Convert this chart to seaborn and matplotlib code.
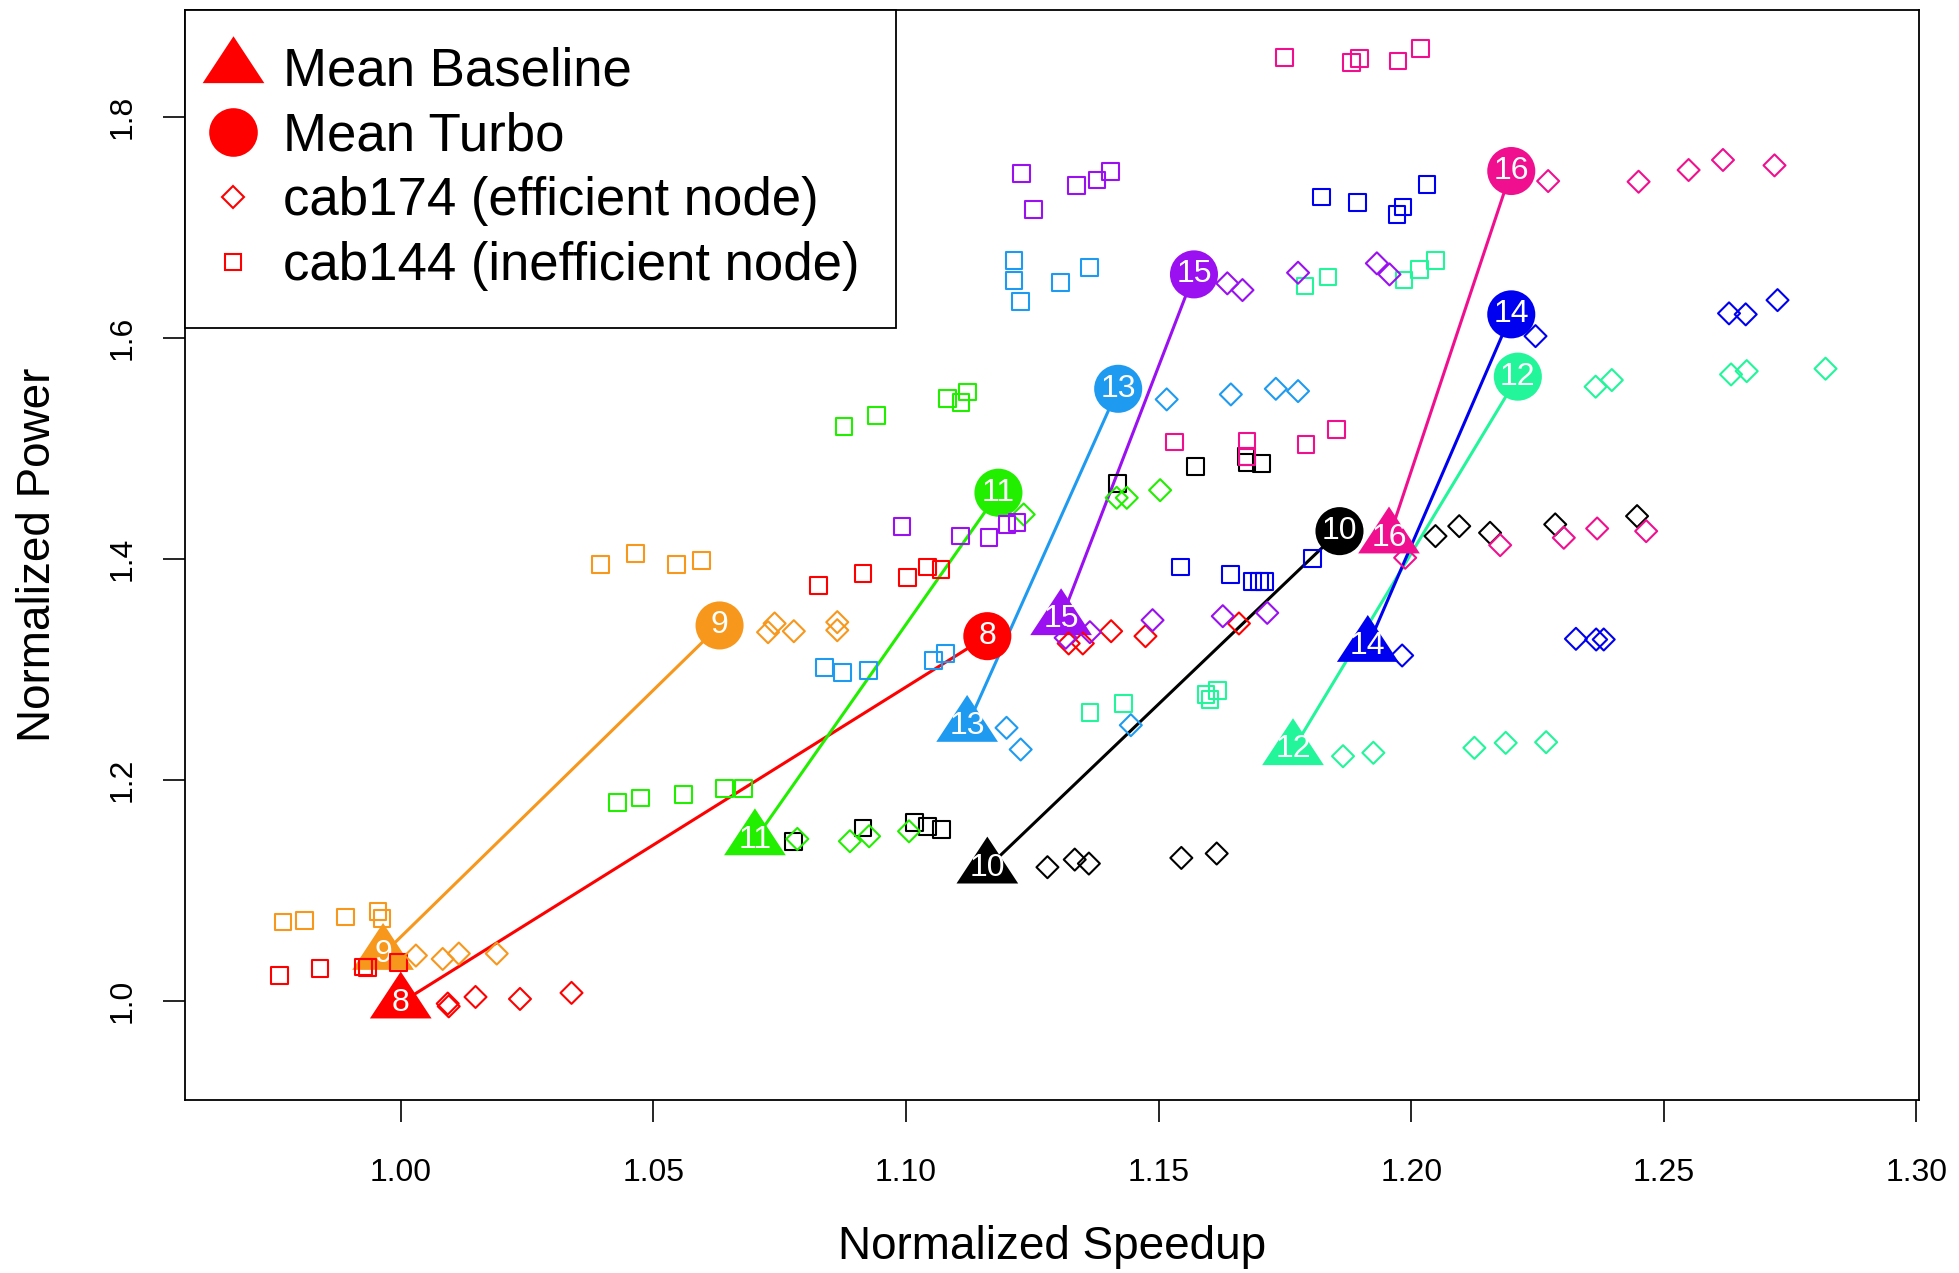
import numpy as np
import pandas as pd
import matplotlib
matplotlib.use("Agg")
import matplotlib.pyplot as plt
from matplotlib.lines import Line2D
import seaborn as sns

# ---------------------------- data ----------------------------
configs = [8, 9, 10, 11, 12, 13, 14, 15, 16]
colors = ['#FF0000', '#F7971C', '#000000', '#22EE00', '#22F59A',
          '#1E9BF0', '#0000F0', '#9A10F0', '#F0108F']

# mean baseline / mean turbo (speedup, power)
base_x = [1.000, 0.9965, 1.1161, 1.0701, 1.1766, 1.1121, 1.1914, 1.1307, 1.1956]
base_y = [0.998, 1.042, 1.1202, 1.1458, 1.2274, 1.2485, 1.3209, 1.3451, 1.4191]
turbo_x = [1.1161, 1.0631, 1.1858, 1.1183, 1.2211, 1.142, 1.2198, 1.157, 1.2198]
turbo_y = [1.330, 1.3397, 1.4251, 1.4599, 1.565, 1.554, 1.6214, 1.6576, 1.7512]

# cab144 (inefficient node) -> squares
cab144_base = {
    8: [(0.976, 1.023), (0.984, 1.029), (0.9926, 1.0305), (0.9934, 1.030), (0.9996, 1.0347)],
    9: [(0.9767, 1.0713), (0.9809, 1.0727), (0.9891, 1.0758), (0.9955, 1.0809), (0.9963, 1.0746)],
    10: [(1.0777, 1.1443), (1.0915, 1.1564), (1.1017, 1.1615), (1.1043, 1.1579), (1.107, 1.1549)],
    11: [(1.0429, 1.1796), (1.0475, 1.1836), (1.0559, 1.1866), (1.0641, 1.1918), (1.0679, 1.1918)],
    12: [(1.1364, 1.2611), (1.143, 1.269), (1.1594, 1.2772), (1.1602, 1.2726), (1.1616, 1.2811)],
    13: [(1.0839, 1.3019), (1.0875, 1.2974), (1.0926, 1.2989), (1.1055, 1.3082), (1.1078, 1.3143)],
    14: [(1.1543, 1.3925), (1.1642, 1.3859), (1.1686, 1.3798), (1.170, 1.3798), (1.171, 1.3798), (1.1804, 1.4004)],
    15: [(1.0992, 1.4296), (1.1108, 1.4207), (1.1164, 1.4191), (1.120, 1.4312), (1.122, 1.4327)],
    16: [(1.1532, 1.5057), (1.1675, 1.5066), (1.1675, 1.4925), (1.1792, 1.5036), (1.1852, 1.5172)],
}
cab144_turbo = {
    8: [(1.0827, 1.3759), (1.0915, 1.3868), (1.1003, 1.3834), (1.1043, 1.3925), (1.1069, 1.3904)],
    9: [(1.0396, 1.3949), (1.0465, 1.4049), (1.0546, 1.3949), (1.0595, 1.3988)],
    10: [(1.1419, 1.4683), (1.1573, 1.4834), (1.1673, 1.4925), (1.1675, 1.4873), (1.1704, 1.4864)],
    11: [(1.0877, 1.5197), (1.0941, 1.5299), (1.1082, 1.5453), (1.1109, 1.5414), (1.1122, 1.551)],
    12: [(1.179, 1.647), (1.1835, 1.6552), (1.1986, 1.6525), (1.2017, 1.6621), (1.2048, 1.6703)],
    13: [(1.1214, 1.6703), (1.1214, 1.6522), (1.1227, 1.6329), (1.1306, 1.6501), (1.1363, 1.6637)],
    14: [(1.1822, 1.7277), (1.1894, 1.7225), (1.1972, 1.712), (1.1984, 1.7186), (1.2031, 1.7391)],
    15: [(1.1229, 1.7488), (1.1252, 1.7165), (1.1338, 1.7382), (1.1378, 1.743), (1.1405, 1.7506)],
    16: [(1.1749, 1.8539), (1.1882, 1.8494), (1.1898, 1.853), (1.1974, 1.8508), (1.2019, 1.862)],
}
# cab174 (efficient node) -> diamonds
cab174_base = {
    8: [(1.0093, 0.9973), (1.0095, 0.9948), (1.0148, 1.0033), (1.0236, 1.0015), (1.0338, 1.007)],
    9: [(1.003, 1.0408), (1.0083, 1.0377), (1.0115, 1.0426), (1.019, 1.0426)],
    10: [(1.128, 1.1208), (1.1334, 1.1277), (1.1362, 1.1241), (1.1545, 1.1292), (1.1615, 1.1332)],
    11: [(1.0785, 1.1464), (1.0889, 1.1443), (1.0927, 1.1488), (1.1006, 1.1533)],
    12: [(1.1865, 1.2213), (1.1925, 1.2244), (1.2125, 1.2289), (1.2187, 1.2334), (1.2267, 1.234)],
    13: [(1.1199, 1.247), (1.1227, 1.2274), (1.1445, 1.2494)],
    14: [(1.1982, 1.3125), (1.2326, 1.3276), (1.2366, 1.327), (1.2381, 1.327)],
    15: [(1.1316, 1.3285), (1.1364, 1.3336), (1.1488, 1.3445), (1.1627, 1.3481), (1.1715, 1.3511)],
    16: [(1.1988, 1.401), (1.2176, 1.4124), (1.2302, 1.4191), (1.2368, 1.4275), (1.2465, 1.4251)],
}
cab174_turbo = {
    8: [(1.1322, 1.3234), (1.135, 1.3234), (1.1406, 1.3345), (1.1474, 1.330), (1.1659, 1.3415)],
    9: [(1.0727, 1.3336), (1.074, 1.3415), (1.0778, 1.3345), (1.0864, 1.3427), (1.0864, 1.3354)],
    10: [(1.2048, 1.4206), (1.2095, 1.4296), (1.2156, 1.4236), (1.2285, 1.4312), (1.2447, 1.4387)],
    11: [(1.1233, 1.4402), (1.1417, 1.4553), (1.1437, 1.4553), (1.1503, 1.4622)],
    12: [(1.2365, 1.5559), (1.2397, 1.5619), (1.2633, 1.567), (1.2664, 1.570), (1.282, 1.5722)],
    13: [(1.1516, 1.5444), (1.1643, 1.5489), (1.1732, 1.554), (1.1776, 1.5519)],
    14: [(1.2246, 1.6017), (1.2629, 1.6223), (1.2662, 1.6214), (1.2725, 1.6343)],
    15: [(1.1636, 1.6495), (1.1666, 1.6434), (1.1776, 1.6591), (1.1932, 1.6676), (1.1957, 1.6576)],
    16: [(1.2271, 1.7421), (1.245, 1.7415), (1.2549, 1.7521), (1.2617, 1.7612), (1.2719, 1.7563)],
}

x_ticks = [1.00, 1.05, 1.10, 1.15, 1.20, 1.25, 1.30]
y_ticks = [1.0, 1.2, 1.4, 1.6, 1.8]
legend_labels = ['Mean Baseline', 'Mean Turbo', 'cab174 (efficient node)', 'cab144 (inefficient node)']

# long table of the node points
rows = []
for name, mode, table in [('cab144', 'base', cab144_base), ('cab144', 'turbo', cab144_turbo),
                          ('cab174', 'base', cab174_base), ('cab174', 'turbo', cab174_turbo)]:
    for cfg, pts in table.items():
        for sx, py in pts:
            rows.append((cfg, name, mode, sx, py))
nodes = pd.DataFrame(rows, columns=['config', 'node', 'mode', 'speedup', 'power'])

# ---------------------------- plotting ----------------------------
sns.set_style('ticks')
plt.rcParams['font.family'] = ['Liberation Sans', 'DejaVu Sans']
plt.rcParams.update({'text.color': 'black', 'axes.labelcolor': 'black',
                     'xtick.color': 'black', 'ytick.color': 'black'})

fig = plt.figure(figsize=(19.59, 12.73), dpi=100)
ax = fig.add_axes([185 / 1959, 173 / 1273, 1734 / 1959, 1090 / 1273])

tri = [(-1, -0.507), (1, -0.507), (0, 1.013)]

for i, cfg in enumerate(configs):
    c = colors[i]
    sns.lineplot(x=[base_x[i], turbo_x[i]], y=[base_y[i], turbo_y[i]], ax=ax,
                 color=c, lw=2.2, sort=False, zorder=2)
    sns.scatterplot(x=[base_x[i]], y=[base_y[i]], ax=ax, marker=tri, s=45 ** 2,
                    color=c, edgecolor='none', zorder=3)
    sns.scatterplot(x=[turbo_x[i]], y=[turbo_y[i]], ax=ax, marker='o', s=34.6 ** 2,
                    color=c, edgecolor='none', zorder=3)
    ax.text(base_x[i], base_y[i], str(cfg), color='white', ha='center', va='center',
            fontsize=23, zorder=4)
    ax.text(turbo_x[i], turbo_y[i], str(cfg), color='white', ha='center', va='center',
            fontsize=23, zorder=4)

for i, cfg in enumerate(configs):
    sub = nodes[nodes['config'] == cfg]
    sq = sub[sub['node'] == 'cab144']
    dm = sub[sub['node'] == 'cab174']
    sns.scatterplot(x=sq['speedup'], y=sq['power'], ax=ax, marker='s', s=12 ** 2,
                    facecolor='none', edgecolor=colors[i], linewidth=1.5, zorder=5)
    sns.scatterplot(x=dm['speedup'], y=dm['power'], ax=ax, marker='D', s=11.2 ** 2,
                    facecolor='none', edgecolor=colors[i], linewidth=1.5, zorder=5)

ax.set_xlim(0.9573, 1.3005)
ax.set_ylim(0.910, 1.897)
ax.set_xticks(x_ticks)
ax.set_xticklabels([f'{v:.2f}' for v in x_ticks])
ax.set_yticks(y_ticks)
ax.set_yticklabels([f'{v:.1f}' for v in y_ticks])
ax.tick_params(axis='both', length=16, width=1.2, labelsize=23, color='black')
ax.tick_params(axis='x', pad=26)
ax.tick_params(axis='y', pad=18)
for lbl in ax.get_yticklabels():
    lbl.set_rotation(90)
    lbl.set_va('center')
for s in ax.spines.values():
    s.set_linewidth(1.3)
    s.set_color('black')

ax.set_xlabel('Normalized Speedup', fontsize=33)
ax.set_ylabel('Normalized Power', fontsize=33)
ax.xaxis.set_label_coords(0.5, -0.135)
ax.xaxis.label.set_va('center')
ax.yaxis.set_label_coords(-0.085, 0.5)
ax.yaxis.label.set_va('center')

handles = [
    Line2D([], [], ls='none', marker=tri, ms=45, color='red', mec='none'),
    Line2D([], [], ls='none', marker='o', ms=35, color='red', mec='none'),
    Line2D([], [], ls='none', marker='D', ms=11.2, mfc='none', mec='red', mew=1.5),
    Line2D([], [], ls='none', marker='s', ms=12, mfc='none', mec='red', mew=1.5),
]
leg = ax.legend(handles, legend_labels, loc='upper left', bbox_to_anchor=(0, 1),
                borderaxespad=0, fontsize=38, frameon=True, fancybox=False,
                framealpha=1, edgecolor='black', labelspacing=0.28,
                handlelength=0.4, handletextpad=0.75, borderpad=0.7)
leg.get_frame().set_linewidth(1.3)
leg.set_zorder(10)

fig.savefig('out.png', dpi=100)
